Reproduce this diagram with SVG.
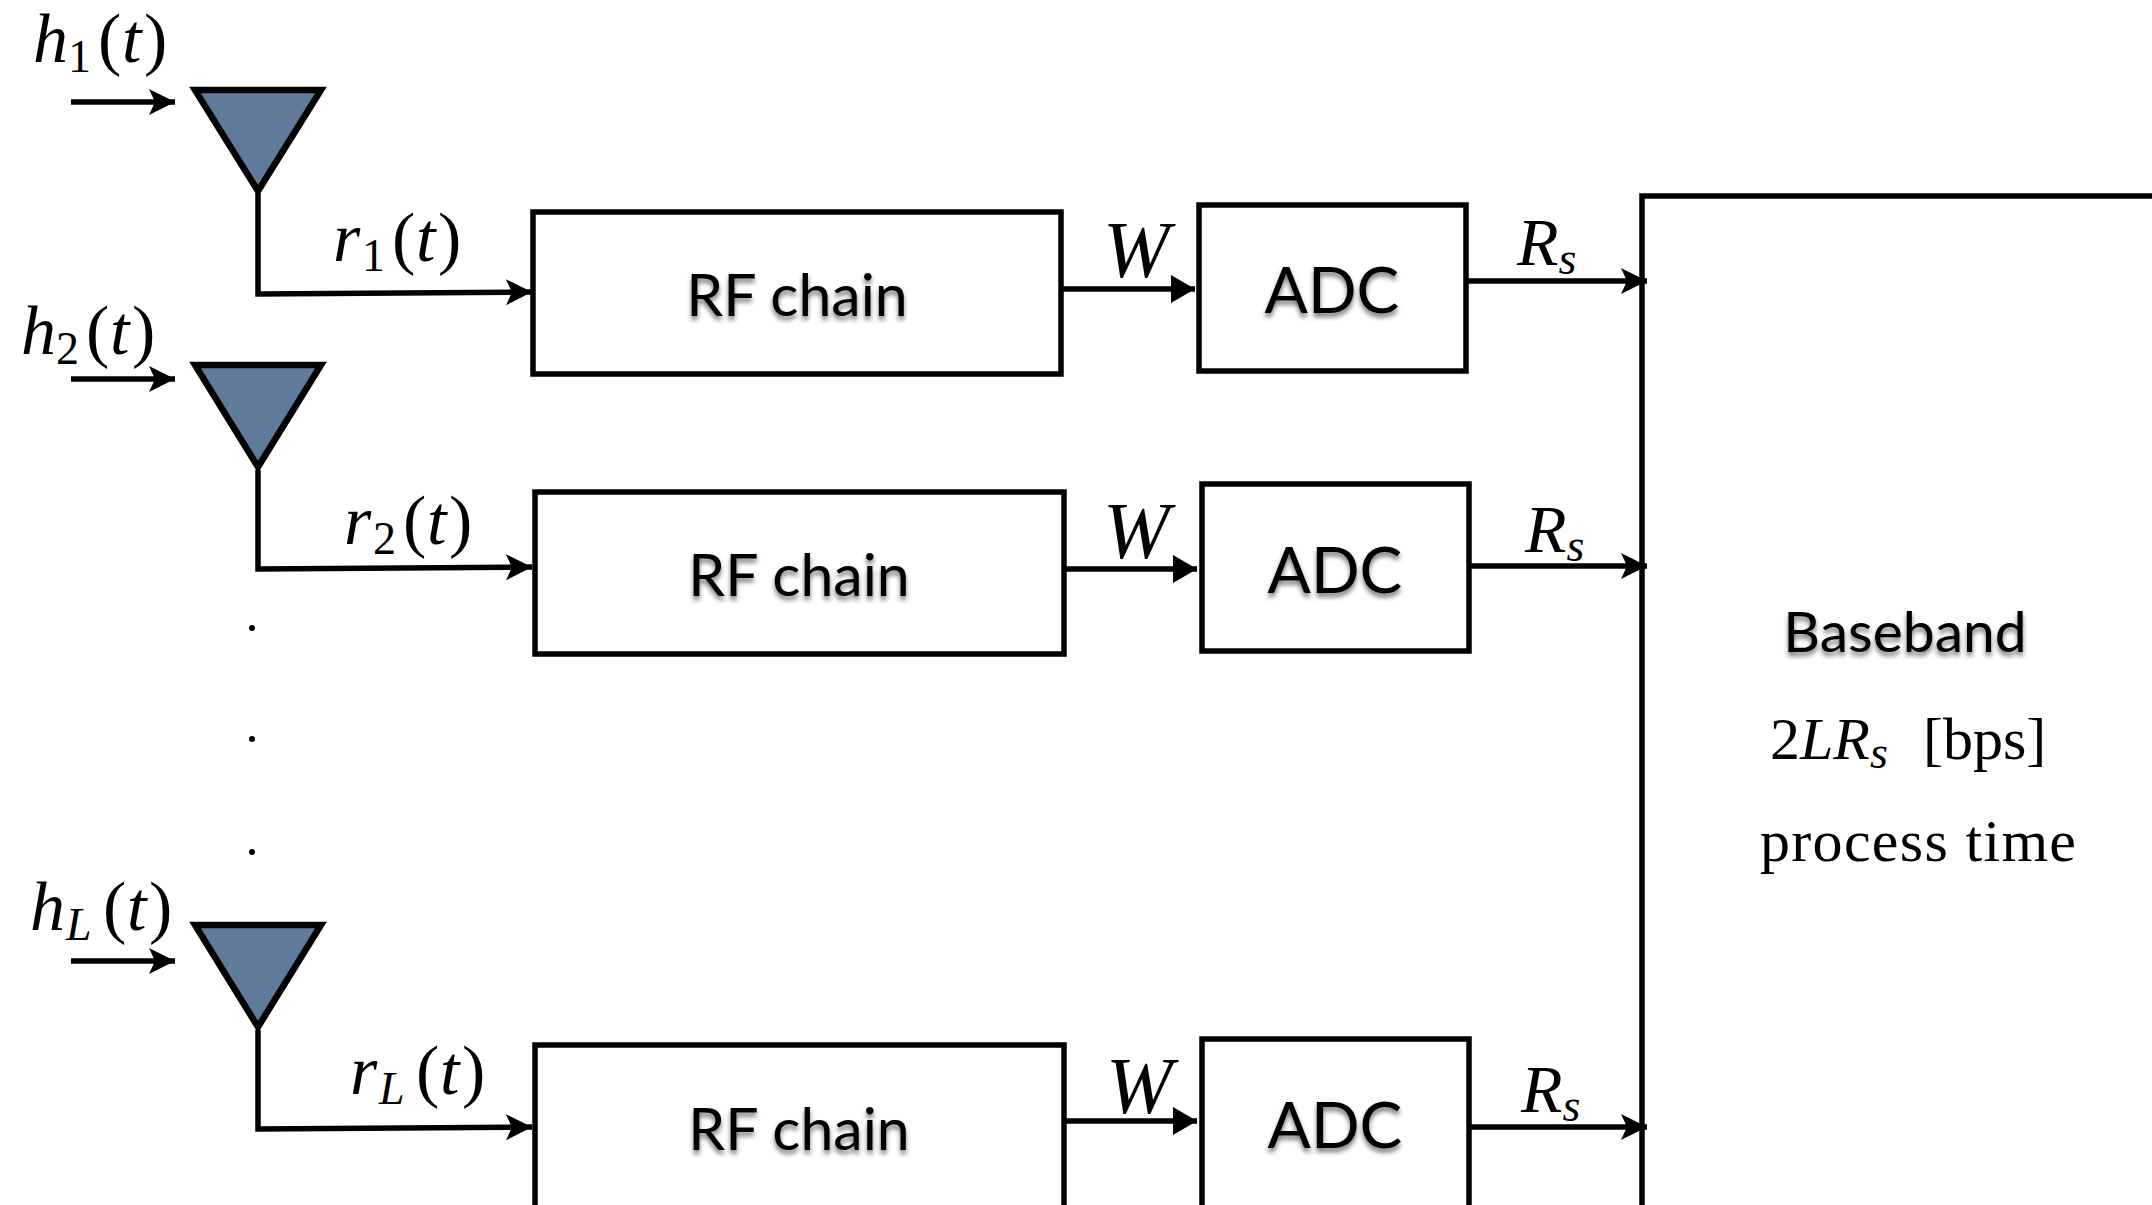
<svg xmlns="http://www.w3.org/2000/svg" width="2152" height="1205" viewBox="0 0 2152 1205">
<defs>
<marker id="ah" markerUnits="userSpaceOnUse" markerWidth="30" markerHeight="30" refX="26" refY="13" orient="auto"><path d="M0,0 L26,13 L0,26 L6,13 Z" fill="#000"/></marker>
<marker id="ahs" markerUnits="userSpaceOnUse" markerWidth="30" markerHeight="30" refX="24" refY="14" orient="auto"><path d="M0,0 L24,14 L0,28 Z" fill="#000"/></marker>
<filter id="shadow" x="-10%" y="-20%" width="120%" height="150%"><feGaussianBlur in="SourceAlpha" stdDeviation="2.5"/><feOffset dy="4"/><feComponentTransfer><feFuncA type="linear" slope="0.55"/></feComponentTransfer><feMerge><feMergeNode/><feMergeNode in="SourceGraphic"/></feMerge></filter>
</defs>
<style>
.box{fill:#fff;stroke:#000;stroke-width:5.5}
.ant{fill:#5f7a9a;stroke:#000;stroke-width:6.5;stroke-linejoin:miter}
.wire{fill:none;stroke:#000;stroke-width:5.5}
.lbl{font-family:"Lato","Liberation Sans",sans-serif;font-size:59px;fill:#000;text-anchor:middle;filter:url(#shadow)}
.adc{font-size:64px}
.bb{font-size:57px}
.m{font-family:"Liberation Serif",serif;font-size:70px;fill:#000}
.w{font-size:80px}
.r{font-size:68px}
.i{font-style:italic}
.s{font-size:46px}
.t{font-family:"Liberation Serif",serif;font-size:60px;fill:#000}
</style>
<rect width="2152" height="1205" fill="#fff"/>
<g id="connectors">
<path class="wire" marker-end="url(#ah)" d="M71,102 H175"/>
<path class="wire" marker-end="url(#ah)" d="M71,379 H175"/>
<path class="wire" marker-end="url(#ah)" d="M71,961 H175"/>
<path class="wire" marker-end="url(#ah)" d="M258,193 V294 L532,292"/>
<path class="wire" marker-end="url(#ah)" d="M258,470 V569 L532,567"/>
<path class="wire" marker-end="url(#ah)" d="M258,1030 V1129 L532,1127"/>
<path class="wire" marker-end="url(#ahs)" d="M1062,289 H1195"/>
<path class="wire" marker-end="url(#ahs)" d="M1065,569 H1197"/>
<path class="wire" marker-end="url(#ahs)" d="M1065,1121 H1197"/>
<path class="wire" marker-end="url(#ah)" d="M1467,281 H1647"/>
<path class="wire" marker-end="url(#ah)" d="M1470,566 H1647"/>
<path class="wire" marker-end="url(#ah)" d="M1470,1127 H1647"/>
</g>
<g id="antenna1"><path class="ant" d="M195,90 H321 L258,191 Z"/></g>
<g id="antenna2"><path class="ant" d="M195,365 H321 L258,467 Z"/></g>
<g id="antennaL"><path class="ant" d="M195,925 H321 L258,1027 Z"/></g>
<g id="rf1"><rect class="box" x="533" y="212" width="528" height="162"/><text class="lbl" x="797" y="316">RF chain</text></g>
<g id="rf2"><rect class="box" x="535" y="492" width="529" height="162"/><text class="lbl" x="799" y="596">RF chain</text></g>
<g id="rfL"><rect class="box" x="535" y="1045" width="529" height="170"/><text class="lbl" x="799" y="1150">RF chain</text></g>
<g id="adc1"><rect class="box" x="1199" y="205" width="267" height="166"/><text class="lbl adc" x="1332" y="313">ADC</text></g>
<g id="adc2"><rect class="box" x="1202" y="484" width="267" height="167"/><text class="lbl adc" x="1335" y="593">ADC</text></g>
<g id="adcL"><rect class="box" x="1202" y="1039" width="267" height="176"/><text class="lbl adc" x="1335" y="1148">ADC</text></g>
<g id="baseband"><path class="wire" d="M2160,196 H1642 V1215"/>
<text class="lbl bb" x="1905" y="652">Baseband</text>
<text class="t" x="1770" y="759">2<tspan class="i">LR</tspan><tspan class="i s" dy="9">s</tspan><tspan dy="-9" x="1923">[bps]</tspan></text>
<text class="t" x="1760" y="861" textLength="316" lengthAdjust="spacing">process time</text></g>
<g id="labels">
<text class="m" x="33" y="62"><tspan class="i">h</tspan><tspan class="s" dy="10" x="68">1</tspan><tspan dy="-10" x="98">(</tspan><tspan class="i" x="122">t</tspan><tspan x="144">)</tspan></text>
<text class="m" x="21" y="354"><tspan class="i">h</tspan><tspan class="s" dy="10" x="56">2</tspan><tspan dy="-10" x="86">(</tspan><tspan class="i" x="110">t</tspan><tspan x="132">)</tspan></text>
<text class="m" x="30" y="930"><tspan class="i">h</tspan><tspan class="i s" dy="10" x="66">L</tspan><tspan dy="-10" x="103">(</tspan><tspan class="i" x="127">t</tspan><tspan x="149">)</tspan></text>
<text class="m" x="333" y="261"><tspan class="i">r</tspan><tspan class="s" dy="10" x="362">1</tspan><tspan dy="-10" x="392">(</tspan><tspan class="i" x="416">t</tspan><tspan x="438">)</tspan></text>
<text class="m" x="344" y="544"><tspan class="i">r</tspan><tspan class="s" dy="10" x="373">2</tspan><tspan dy="-10" x="403">(</tspan><tspan class="i" x="427">t</tspan><tspan x="449">)</tspan></text>
<text class="m" x="350" y="1094"><tspan class="i">r</tspan><tspan class="i s" dy="10" x="379">L</tspan><tspan dy="-10" x="416">(</tspan><tspan class="i" x="440">t</tspan><tspan x="462">)</tspan></text>
<text class="m i w" x="1103" y="277">W</text>
<text class="m i w" x="1103" y="558">W</text>
<text class="m i w" x="1106" y="1113">W</text>
<text class="m i r" x="1517" y="265">R<tspan class="s" dy="9">s</tspan></text>
<text class="m i r" x="1525" y="552">R<tspan class="s" dy="9">s</tspan></text>
<text class="m i r" x="1521" y="1112">R<tspan class="s" dy="9">s</tspan></text>
<circle cx="252" cy="628" r="3"/><circle cx="252" cy="739" r="3"/><circle cx="252" cy="852" r="3"/>
</g>
</svg>
